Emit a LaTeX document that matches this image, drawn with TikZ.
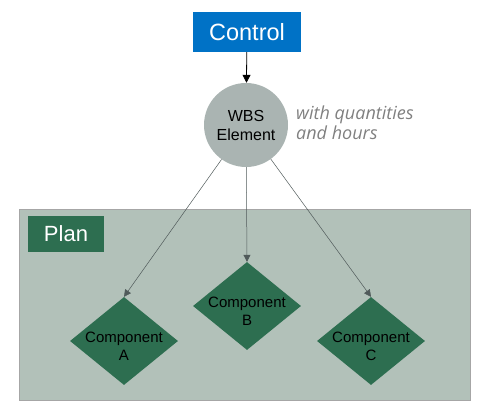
\documentclass[tikz,border=0pt]{standalone}
\usepackage{fontspec}
\setmainfont{Liberation Sans}
\newfontfamily\notefont{Open Sans}
\usepackage{tikz}
\usetikzlibrary{shapes.geometric,arrows.meta}
\definecolor{ctrl-blue}{RGB}{0,114,198}
\definecolor{plan-green}{RGB}{45,110,80}
\definecolor{plan-bg}{RGB}{178,193,185}
\definecolor{wbs-gray}{RGB}{170,180,178}
\definecolor{link-gray}{RGB}{80,90,90}
\definecolor{note-gray}{RGB}{128,128,128}
\newcommand*\bigtxt{\fontsize{23.5}{26}\selectfont}
\newcommand*\comptxt{\fontsize{15}{18}\selectfont}
\newcommand*\comptext[1]{\raisebox{-10pt}[0pt][0pt]{\makebox[0pt]{\begin{tabular}{@{}c@{}}Component\\#1\end{tabular}}}}

\begin{document}
\begin{tikzpicture}[x=1pt,y=-1pt,
				label box/.style={fill=#1,text=white,inner sep=0pt,font=\bigtxt},
				comp/.style={diamond,fill=plan-green,inner sep=0pt,minimum width=108pt,minimum height=88pt,font=\comptxt},
				link/.style={draw=link-gray,-{Triangle[length=7pt,width=7pt]},line width=0.5pt}]
				\useasboundingbox (0,0) rectangle (481,411);
				\fill[plan-bg,draw=gray!70] (19,209) rectangle (470,400);
				\node (control) [label box=ctrl-blue,minimum width=108pt,minimum height=40pt] at (247,32) {Control};
				\node (wbs) [circle,fill=wbs-gray,minimum size=84pt,inner sep=0pt,align=center,font=\fontsize{16}{19}\selectfont] at (246,125) {WBS\\Element};
				\node (note) [anchor=west,align=left,text=note-gray,font=\notefont\itshape\fontsize{18}{20}\selectfont,inner sep=0pt] at (296,123) {with quantities\\and hours};
				\node (plan) [label box=plan-green,font=\fontsize{22}{24}\selectfont,minimum width=76pt,minimum height=36pt] at (66,234) {Plan};
				\node (compA) [comp] at (124,341) {\comptext{A}};
				\node (compB) [comp] at (247,306) {\comptext{B}};
				\node (compC) [comp] at (371,341) {\comptext{C}};
				\draw[-{Triangle[length=8pt,width=8pt]},line width=0.8pt] (control) -- (wbs);
				\draw[link] (wbs) -- (compA.north);
				\draw[link] (wbs) -- (compB.north);
				\draw[link] (wbs) -- (compC.north);
				\end{tikzpicture}
\end{document}
